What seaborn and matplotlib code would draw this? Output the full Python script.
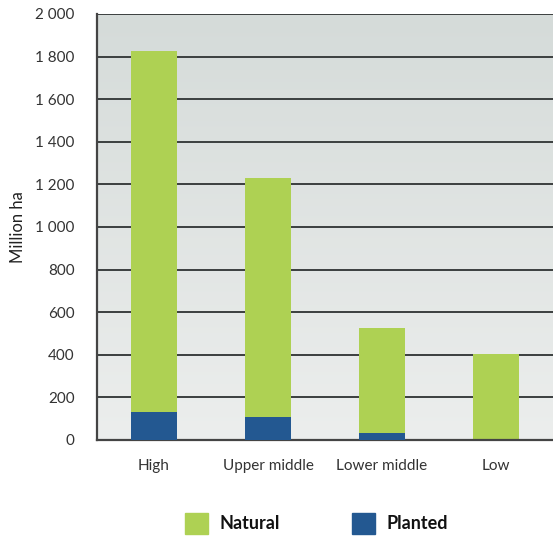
import numpy as np
import pandas as pd
import matplotlib
matplotlib.use("Agg")
import matplotlib.pyplot as plt
import seaborn as sns
from matplotlib.patches import Patch
from matplotlib.ticker import FuncFormatter
from matplotlib.colors import LinearSegmentedColormap

# Forest area by income group (million ha)
categories = ["High", "Upper middle", "Lower middle", "Low"]
total_area = [1826, 1228, 528, 405]
planted_area = [130, 109, 34, 2]
natural_area = [t - p for t, p in zip(total_area, planted_area)]
y_ticks = [0, 200, 400, 600, 800, 1000, 1200, 1400, 1600, 1800, 2000]

df = pd.DataFrame({
    "Income": categories,
    "Natural": natural_area,
    "Planted": planted_area,
})
df["Total"] = df["Natural"] + df["Planted"]

green = "#aed153"
blue = "#235891"
grid_col = "#3b3f3f"
text_col = "#333333"

sns.set_theme(style="white")
plt.rcParams["font.family"] = ["Lato", "DejaVu Sans"]

fig = plt.figure(figsize=(5.53, 5.38), dpi=100)
ax = fig.add_axes([0.1754, 0.1822, 0.8246, 0.7918])

# gradient background
grad = np.linspace(0, 1, 256).reshape(-1, 1)
bg_cmap = LinearSegmentedColormap.from_list("bg", ["#eceeed", "#d5dbd9"])
ax.imshow(grad, extent=(-0.5, 3.5, 0, 2000), origin="lower", aspect="auto",
          cmap=bg_cmap, zorder=0)

for v in y_ticks[1:]:
    ax.axhline(v, color=grid_col, lw=1.4, zorder=1)

sns.barplot(data=df, x="Income", y="Total", color=green, width=0.4,
            saturation=1, linewidth=0, ax=ax, zorder=2)
sns.barplot(data=df, x="Income", y="Planted", color=blue, width=0.4,
            saturation=1, linewidth=0, ax=ax, zorder=3)

ax.set_xlim(-0.5, 3.5)
ax.set_ylim(0, 2000)
ax.set_yticks(y_ticks)
ax.yaxis.set_major_formatter(FuncFormatter(lambda v, p: f"{int(v):,}".replace(",", " ")))
ax.tick_params(axis="both", length=0, labelsize=11, colors=text_col)
ax.tick_params(axis="y", pad=16)
ax.tick_params(axis="x", pad=14)
ax.set_xlabel("")
ax.set_ylabel("Million ha", fontsize=12, color="#222222", labelpad=7)

for side in ["top", "right"]:
    ax.spines[side].set_visible(False)
for side in ["left", "bottom"]:
    ax.spines[side].set_color("#444444")
    ax.spines[side].set_linewidth(1.6)

handles = [Patch(color=green, label="Natural"), Patch(color=blue, label="Planted")]
leg = fig.legend(handles=handles, loc="lower center", ncol=2, frameon=False,
                 bbox_to_anchor=(0.572, -0.022), prop={"weight": "bold", "size": 13},
                 handlelength=1.3, handleheight=1.35, handletextpad=0.6,
                 columnspacing=4.0)
for t in leg.get_texts():
    t.set_color("#111111")

fig.savefig("out.png", dpi=100)
